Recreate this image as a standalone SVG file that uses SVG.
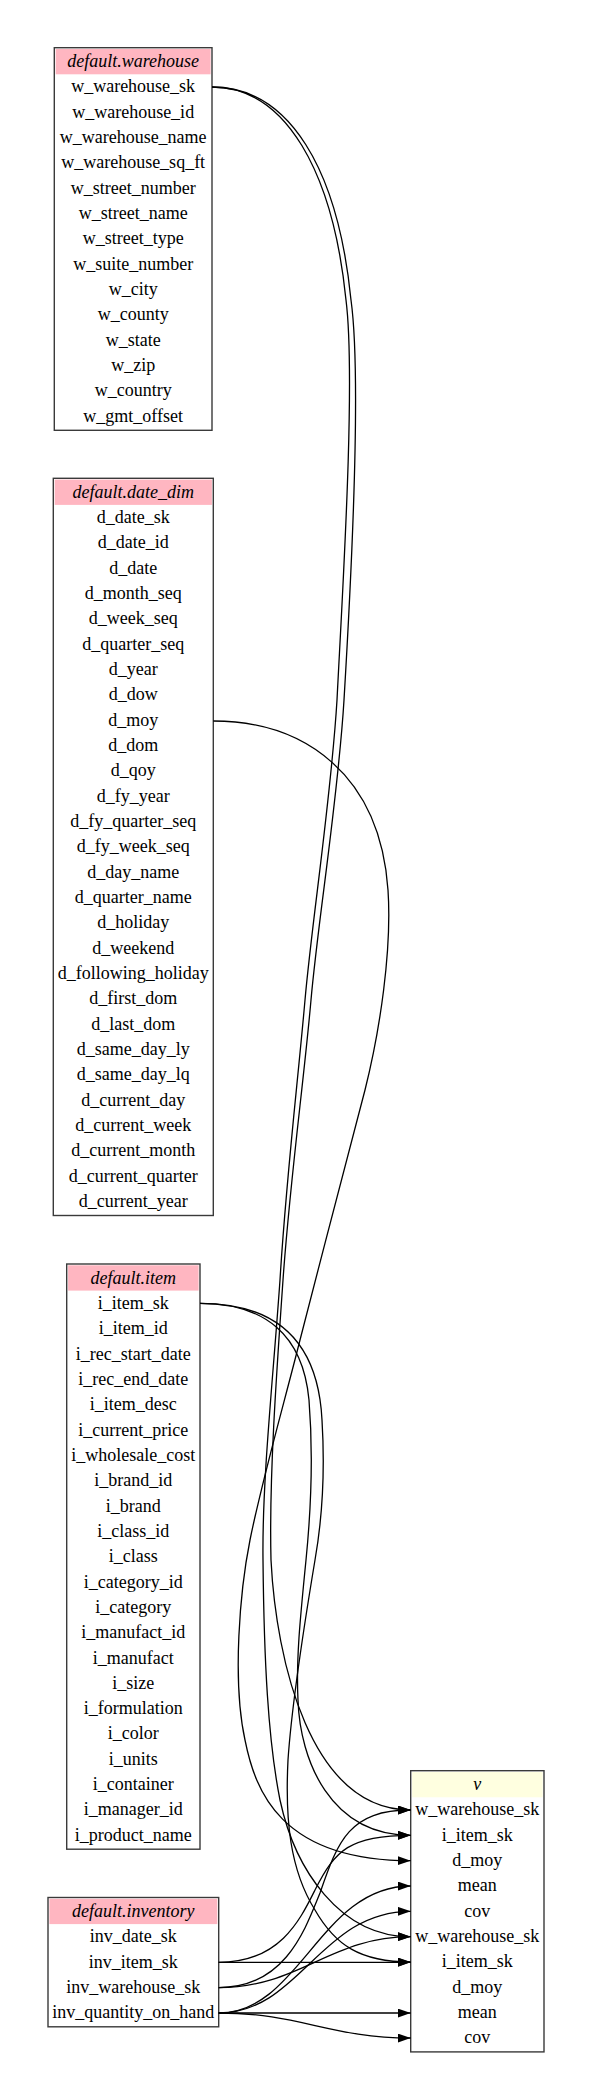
<svg xmlns="http://www.w3.org/2000/svg" width="592" height="2100" viewBox="0 0 592 2100">
<defs>
<style>
.box{fill:#ffffff;stroke:#3a3a3a;stroke-width:1.4}
.hd{fill:#ffb6c1}
.hdv{fill:#ffffe0}
text{font-family:"Liberation Serif","Times New Roman",serif;font-size:18px;fill:#000;text-anchor:middle}
.ti{font-style:italic}
.e{fill:none;stroke:#000;stroke-width:1.3;marker-end:url(#ah)}
</style>
<marker id="ah" markerUnits="userSpaceOnUse" markerWidth="14" markerHeight="10" refX="13" refY="4.5" orient="auto">
<path d="M0,0 L13,4.5 L0,9 Z" fill="#000"/>
</marker>
</defs>
<rect x="0" y="0" width="592" height="2100" fill="#ffffff"/>

<g id="warehouse" transform="translate(54.3,47.7)">
<rect class="box" x="0" y="0" width="157.7" height="382.6"/>
<rect class="hd" x="1.4" y="1.3" width="154.9" height="25.3"/>
<text x="78.85" y="19.5" class="ti">default.warehouse</text>
<text x="78.85" y="44.8">w_warehouse_sk</text>
<text x="78.85" y="70.2">w_warehouse_id</text>
<text x="78.85" y="95.5">w_warehouse_name</text>
<text x="78.85" y="120.8">w_warehouse_sq_ft</text>
<text x="78.85" y="146.2">w_street_number</text>
<text x="78.85" y="171.5">w_street_name</text>
<text x="78.85" y="196.8">w_street_type</text>
<text x="78.85" y="222.1">w_suite_number</text>
<text x="78.85" y="247.5">w_city</text>
<text x="78.85" y="272.8">w_county</text>
<text x="78.85" y="298.1">w_state</text>
<text x="78.85" y="323.5">w_zip</text>
<text x="78.85" y="348.8">w_country</text>
<text x="78.85" y="374.1">w_gmt_offset</text>
</g>

<g id="date_dim" transform="translate(53.3,478.3)">
<rect class="box" x="0" y="0" width="160" height="737.2"/>
<rect class="hd" x="1.4" y="1.3" width="157.2" height="25.3"/>
<text x="80" y="19.5" class="ti">default.date_dim</text>
<text x="80" y="44.8">d_date_sk</text>
<text x="80" y="70.2">d_date_id</text>
<text x="80" y="95.5">d_date</text>
<text x="80" y="120.8">d_month_seq</text>
<text x="80" y="146.2">d_week_seq</text>
<text x="80" y="171.5">d_quarter_seq</text>
<text x="80" y="196.8">d_year</text>
<text x="80" y="222.1">d_dow</text>
<text x="80" y="247.5">d_moy</text>
<text x="80" y="272.8">d_dom</text>
<text x="80" y="298.1">d_qoy</text>
<text x="80" y="323.5">d_fy_year</text>
<text x="80" y="348.8">d_fy_quarter_seq</text>
<text x="80" y="374.1">d_fy_week_seq</text>
<text x="80" y="399.5">d_day_name</text>
<text x="80" y="424.8">d_quarter_name</text>
<text x="80" y="450.1">d_holiday</text>
<text x="80" y="475.4">d_weekend</text>
<text x="80" y="500.8">d_following_holiday</text>
<text x="80" y="526.1">d_first_dom</text>
<text x="80" y="551.4">d_last_dom</text>
<text x="80" y="576.8">d_same_day_ly</text>
<text x="80" y="602.1">d_same_day_lq</text>
<text x="80" y="627.4">d_current_day</text>
<text x="80" y="652.8">d_current_week</text>
<text x="80" y="678.1">d_current_month</text>
<text x="80" y="703.4">d_current_quarter</text>
<text x="80" y="728.7">d_current_year</text>
</g>

<g id="item" transform="translate(66.7,1264)">
<rect class="box" x="0" y="0" width="133.3" height="585.2"/>
<rect class="hd" x="1.4" y="1.3" width="130.5" height="25.3"/>
<text x="66.65" y="19.5" class="ti">default.item</text>
<text x="66.65" y="44.8">i_item_sk</text>
<text x="66.65" y="70.2">i_item_id</text>
<text x="66.65" y="95.5">i_rec_start_date</text>
<text x="66.65" y="120.8">i_rec_end_date</text>
<text x="66.65" y="146.2">i_item_desc</text>
<text x="66.65" y="171.5">i_current_price</text>
<text x="66.65" y="196.8">i_wholesale_cost</text>
<text x="66.65" y="222.1">i_brand_id</text>
<text x="66.65" y="247.5">i_brand</text>
<text x="66.65" y="272.8">i_class_id</text>
<text x="66.65" y="298.1">i_class</text>
<text x="66.65" y="323.5">i_category_id</text>
<text x="66.65" y="348.8">i_category</text>
<text x="66.65" y="374.1">i_manufact_id</text>
<text x="66.65" y="399.5">i_manufact</text>
<text x="66.65" y="424.8">i_size</text>
<text x="66.65" y="450.1">i_formulation</text>
<text x="66.65" y="475.4">i_color</text>
<text x="66.65" y="500.8">i_units</text>
<text x="66.65" y="526.1">i_container</text>
<text x="66.65" y="551.4">i_manager_id</text>
<text x="66.65" y="576.8">i_product_name</text>
</g>

<g id="inventory" transform="translate(48,1897.5)">
<rect class="box" x="0" y="0" width="170.7" height="129.3"/>
<rect class="hd" x="1.4" y="1.3" width="167.9" height="25.3"/>
<text x="85.35" y="19.5" class="ti">default.inventory</text>
<text x="85.35" y="44.8">inv_date_sk</text>
<text x="85.35" y="70.2">inv_item_sk</text>
<text x="85.35" y="95.5">inv_warehouse_sk</text>
<text x="85.35" y="120.8">inv_quantity_on_hand</text>
</g>

<g id="v" transform="translate(410.7,1770.7)">
<rect class="box" x="0" y="0" width="133.3" height="281.2"/>
<rect class="hdv" x="1.4" y="1.3" width="130.5" height="25.3"/>
<text x="66.65" y="19.5" class="ti">v</text>
<text x="66.65" y="44.8">w_warehouse_sk</text>
<text x="66.65" y="70.2">i_item_sk</text>
<text x="66.65" y="95.5">d_moy</text>
<text x="66.65" y="120.8">mean</text>
<text x="66.65" y="146.2">cov</text>
<text x="66.65" y="171.5">w_warehouse_sk</text>
<text x="66.65" y="196.8">i_item_sk</text>
<text x="66.65" y="222.1">d_moy</text>
<text x="66.65" y="247.5">mean</text>
<text x="66.65" y="272.8">cov</text>
</g>

<g id="connectors">
<path class="e" d="M212,87 C290,87 338,170 351,300 C362,380 350,600 344,700 C338,800 318,920 311,1000 C304,1080 290,1180 283,1280 C276,1380 269,1480 271,1560 C276,1660 310,1810 410.7,1810"/>
<path class="e" d="M212,87 C286,87 333,172 346,300 C356,380 342,600 337,700 C331,800 312,920 305,1000 C298,1080 286,1180 280,1280 C273,1380 262,1480 263,1560 C264,1660 268,1740 280,1800 C295,1870 340,1936.7 410.7,1936.7"/>
<path class="e" d="M213.3,721 C305,721 380,775 388,890 C392,950 380,1030 365,1090 C350,1150 320,1260 300,1340 C285,1400 262,1480 250,1540 C240,1590 232,1680 245,1740 C255,1790 280,1860.7 410.7,1860.7"/>
<path class="e" d="M200,1303.3 C265,1303.3 303,1335 309,1400 C313,1450 312,1500 306,1560 C300,1620 296,1660 298,1700 C300,1760 330,1835.3 410.7,1835.3"/>
<path class="e" d="M200,1303.3 C275,1303.3 318,1340 322,1420 C325,1470 322,1520 315,1560 C305,1620 292,1700 288,1760 C285,1820 290,1870 315,1910 C335,1945 360,1962 410.7,1962"/>
<path class="e" d="M218.7,1962.3 L410.7,1962.3"/>
<path class="e" d="M218.7,1962.3 C280,1962.3 300,1920 315,1890 C335,1850 350,1835.3 410.7,1835.3"/>
<path class="e" d="M218.7,1987.6 C285,1987.6 305,1930 320,1893 C338,1840 350,1810 410.7,1810"/>
<path class="e" d="M218.7,1987.6 C300,1987.6 330,1936.7 410.7,1936.7"/>
<path class="e" d="M218.7,2013 C300,2013 320,1886 410.7,1886"/>
<path class="e" d="M218.7,2013 C300,2013 320,1911.3 410.7,1911.3"/>
<path class="e" d="M218.7,2013 L410.7,2013"/>
<path class="e" d="M218.7,2013 C300,2013 330,2038 410.7,2038"/>
</g>
</svg>
